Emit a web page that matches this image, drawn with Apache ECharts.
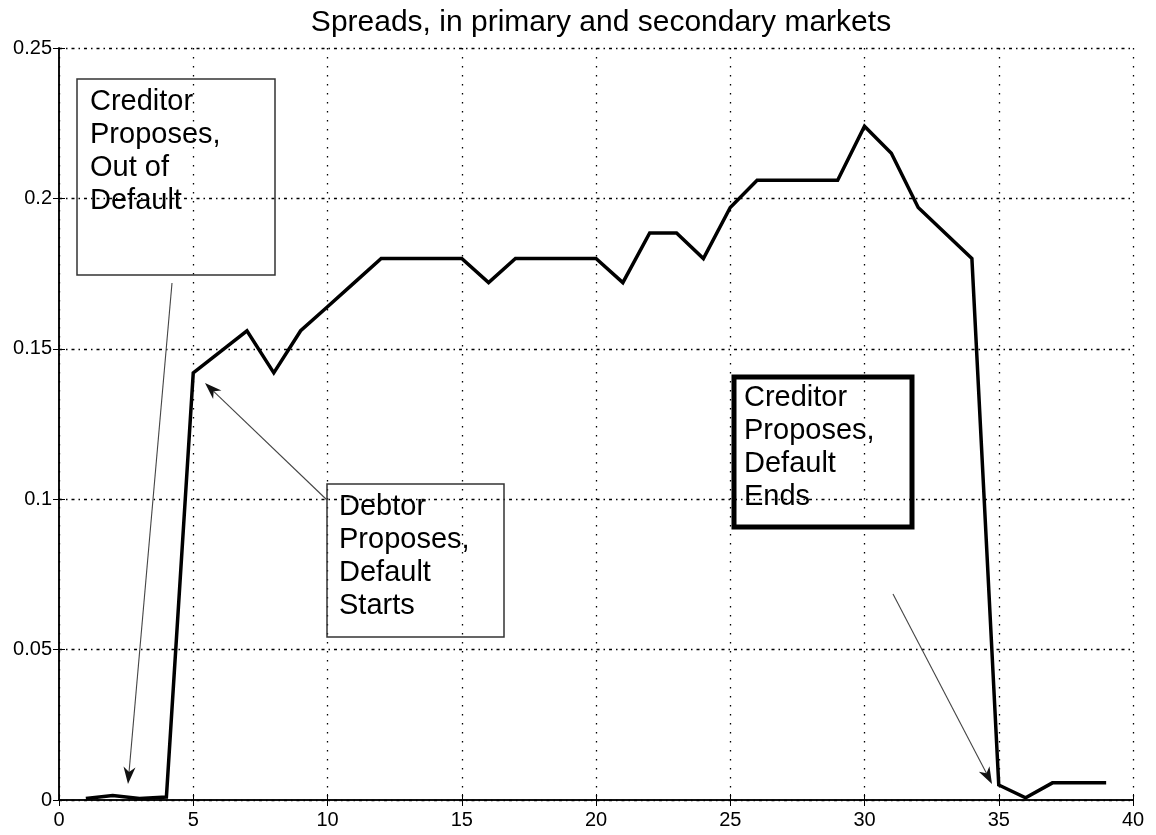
<!DOCTYPE html>
<html>
<head>
<meta charset="utf-8">
<script src="https://cdn.jsdelivr.net/npm/echarts@6/dist/echarts.min.js"></script>
<style>
html,body{margin:0;padding:0;background:#fff;}
#chart{width:1156px;height:835px;}
</style>
</head>
<body>
<div id="chart"></div>
<script>
// ---- data ----
const periods = [1,2,3,4,5,6,7,8,9,10,11,12,13,14,15,16,17,18,19,20,21,22,23,24,25,26,27,28,29,30,31,32,33,34,35,36,37,38,39];
const spreads = [0.0005,0.0015,0.0005,0.001,0.142,0.149,0.156,0.142,0.156,0.164,0.172,0.180,0.180,0.180,0.180,0.172,0.180,0.180,0.180,0.180,0.172,0.1885,0.1885,0.180,0.197,0.206,0.206,0.206,0.206,0.224,0.215,0.197,0.1885,0.180,0.005,0.0007,0.0057,0.0057,0.0057];
const xTickLabels = ['0','5','10','15','20','25','30','35','40'];
const yTickLabels = ['0','0.05','0.1','0.15','0.2','0.25'];
const titleText = 'Spreads, in primary and secondary markets';
const annotationTexts = [
  'Creditor\nProposes,\nOut of\nDefault',
  'Debtor\nProposes,\nDefault\nStarts',
  'Creditor\nProposes,\nDefault\nEnds'
];

// ---- layout ----
const FONT = '"Liberation Sans", Arial, Helvetica, sans-serif';
const boxes = [
  {x:77, y:79, w:198, h:196, lw:1.5, stroke:'#333', tx:90, ty:85},
  {x:327, y:484, w:177, h:153, lw:1.5, stroke:'#333', tx:339, ty:490},
  {x:734, y:377, w:178, h:150, lw:5, stroke:'#000', tx:744, ty:381}
];
const arrows = [
  {sx:172, sy:283, tx:128, ty:784},
  {sx:327, sy:500, tx:205, ty:383},
  {sx:893, sy:594, tx:992, ty:784}
];

function arrowGraphics(a){
  const dx=a.tx-a.sx, dy=a.ty-a.sy, L=Math.hypot(dx,dy);
  const ux=dx/L, uy=dy/L, nx=-uy, ny=ux;
  const len=17, hw=6, notch=5;
  const bx=a.tx-ux*len, by=a.ty-uy*len;
  const mx=a.tx-ux*(len-notch), my=a.ty-uy*(len-notch);
  return [
    {type:'line', z:50, shape:{x1:a.sx,y1:a.sy,x2:mx,y2:my}, style:{stroke:'#444', lineWidth:1.1}},
    {type:'polygon', z:51, shape:{points:[[a.tx,a.ty],[bx+nx*hw,by+ny*hw],[mx,my],[bx-nx*hw,by-ny*hw]]}, style:{fill:'#111'}}
  ];
}

const graphics = [];
boxes.forEach((b,i)=>{
  graphics.push({type:'rect', z:40, shape:{x:b.x,y:b.y,width:b.w,height:b.h}, style:{fill:'none', stroke:b.stroke, lineWidth:b.lw}});
  graphics.push({type:'text', z:41, x:b.tx, y:b.ty, style:{text:annotationTexts[i], font:'29px '+FONT, lineHeight:33, fill:'#000', align:'left', verticalAlign:'top'}});
});
arrows.forEach(a=>arrowGraphics(a).forEach(g=>graphics.push(g)));

const chart = echarts.init(document.getElementById('chart'), null, {renderer:'canvas'});
const axisLine = {show:true, lineStyle:{color:'#000', width:1.5}};
const tickIn = {show:true, inside:true, length:6, lineStyle:{color:'#000', width:1}};
const fmtX = v => { const s = String(v); return xTickLabels.includes(s) ? s : ''; };
const fmtY = v => { const s = String(+v.toFixed(2)); return yTickLabels.includes(s) ? s : ''; };

chart.setOption({
  animation:false,
  backgroundColor:'#fff',
  title:{text:titleText, left:596, textAlign:'center', top:3, textStyle:{fontFamily:FONT, fontSize:30, fontWeight:'normal', color:'#000'}},
  grid:{left:59, right:23, top:48, bottom:35, outerBoundsMode:'none', show:false},
  xAxis:[
    {type:'value', min:0, max:40, interval:5, position:'bottom',
     axisLine:axisLine, axisTick:tickIn,
     axisLabel:{formatter:fmtX, color:'#000', fontSize:20, fontFamily:FONT, margin:10},
     splitLine:{show:true, lineStyle:{color:'#000', width:1.3, type:[1.5,7.5]}}},
    {type:'value', min:0, max:40, interval:5, position:'top',
     axisLine:axisLine, axisTick:tickIn, axisLabel:{show:false}, splitLine:{show:false}}
  ],
  yAxis:[
    {type:'value', min:0, max:0.25, interval:0.05, position:'left',
     axisLine:axisLine, axisTick:tickIn,
     axisLabel:{formatter:fmtY, color:'#000', fontSize:20, fontFamily:FONT, margin:7},
     splitLine:{show:true, lineStyle:{color:'#000', width:1.3, type:[3,4,1.5,4]}}},
    {type:'value', min:0, max:0.25, interval:0.05, position:'right',
     axisLine:axisLine, axisTick:tickIn, axisLabel:{show:false}, splitLine:{show:false}}
  ],
  series:[{
    type:'line', xAxisIndex:0, yAxisIndex:0,
    data: periods.map((p,i)=>[p, spreads[i]]),
    showSymbol:false, symbol:'none',
    lineStyle:{color:'#000', width:3.5, join:'miter'},
    z:10
  }],
  graphic: graphics
});
</script>
</body>
</html>
